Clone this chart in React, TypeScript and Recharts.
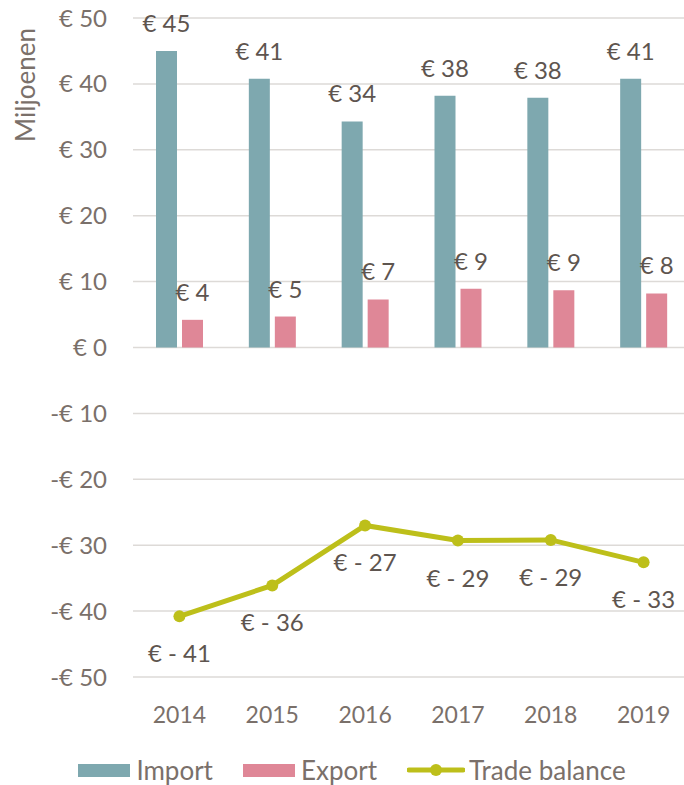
import React from 'react';
import { ComposedChart, Bar, Line, XAxis, YAxis, CartesianGrid, Legend, LabelList, Label } from 'recharts';

const years = ['2014', '2015', '2016', '2017', '2018', '2019'];
const importValues = [45.0, 40.8, 34.3, 38.2, 37.9, 40.8];
const exportValues = [4.2, 4.7, 7.3, 8.9, 8.7, 8.2];
const balanceValues = [-40.8, -36.1, -27.0, -29.3, -29.2, -32.6];
const yTicks = [-50, -40, -30, -20, -10, 0, 10, 20, 30, 40, 50];
const seriesNames = ['Import', 'Export', 'Trade balance'];

const IMPORT_COLOR = '#7EA8AF';
const EXPORT_COLOR = '#DF8797';
const LINE_COLOR = '#BDBF1A';
const TICK_COLOR = '#7A706A';
const LABEL_COLOR = '#5E554F';
const FONT = 'Lato, "Open Sans", sans-serif';

const data = years.map((y, i) => ({
  year: y,
  imp: importValues[i],
  exp: exportValues[i],
  bal: balanceValues[i],
}));

const fmtTick = (v: number) => (v < 0 ? `-€ ${Math.abs(v)}` : `€ ${v}`);
const fmtLabel = (v: any) => {
  const r = Math.round(Number(v));
  return r < 0 ? `€ - ${Math.abs(r)}` : `€ ${r}`;
};

const BarTopLabel = (props: any) => {
  const { x, y, width, value } = props;
  return (
    <text
      x={Number(x) + Number(width) / 2}
      y={Number(y) - 19}
      textAnchor="middle"
      fill={LABEL_COLOR}
      fontSize={24}
      fontFamily={FONT}
    >
      {fmtLabel(value)}
    </text>
  );
};

const PointBelowLabel = (props: any) => {
  const { x, y, value } = props;
  return (
    <text
      x={Number(x)}
      y={Number(y) + 46}
      textAnchor="middle"
      fill={LABEL_COLOR}
      fontSize={24}
      fontFamily={FONT}
    >
      {fmtLabel(value)}
    </text>
  );
};

const YTitle = (props: any) => {
  const vb = props.viewBox || { x: 0, y: 0 };
  const x = 25;
  const y = vb.y + 67;
  return (
    <text
      x={x}
      y={y}
      transform={`rotate(-90, ${x}, ${y})`}
      textAnchor="middle"
      dominantBaseline="central"
      fill={TICK_COLOR}
      fontSize={26}
      fontFamily={FONT}
    >
      Miljoenen
    </text>
  );
};

const LegendContent = () => (
  <div
    style={{
      display: 'flex',
      justifyContent: 'center',
      alignItems: 'center',
      paddingTop: 16,
      paddingLeft: 14,
      fontFamily: FONT,
      fontSize: 26,
      lineHeight: '30px',
      color: TICK_COLOR,
    }}
  >
    <div style={{ display: 'flex', alignItems: 'center', marginRight: 30 }}>
      <div style={{ width: 52, height: 13, background: IMPORT_COLOR, marginRight: 6 }} />
      <span>{seriesNames[0]}</span>
    </div>
    <div style={{ display: 'flex', alignItems: 'center', marginRight: 30 }}>
      <div style={{ width: 52, height: 13, background: EXPORT_COLOR, marginRight: 6 }} />
      <span>{seriesNames[1]}</span>
    </div>
    <div style={{ display: 'flex', alignItems: 'center' }}>
      <svg width={58} height={16} style={{ marginRight: 4 }}>
        <line x1={2} y1={8} x2={56} y2={8} stroke={LINE_COLOR} strokeWidth={5} strokeLinecap="round" />
        <circle cx={29} cy={8} r={6} fill={LINE_COLOR} />
      </svg>
      <span>{seriesNames[2]}</span>
    </div>
  </div>
);

export default function App() {
  return (
    <div style={{ position: 'absolute', left: 0, top: 0, width: 684, height: 785, overflow: 'hidden', background: '#fff' }}>
      <ComposedChart
        width={692}
        height={785}
        data={data}
        margin={{ top: 18, right: 2, bottom: 0, left: 0 }}
        barGap={5}
      >
        <CartesianGrid vertical={false} stroke="#DDDAD7" strokeWidth={1.5} />
        <XAxis
          dataKey="year"
          axisLine={false}
          tickLine={false}
          tickSize={0}
          tickMargin={30}
          height={62}
          tick={{ fill: TICK_COLOR, fontSize: 23, fontFamily: FONT }}
        />
        <YAxis
          domain={[-50, 50]}
          ticks={yTicks}
          interval={0}
          width={133}
          axisLine={false}
          tickLine={false}
          tickSize={0}
          tickMargin={26}
          tickFormatter={fmtTick}
          tick={{ fill: TICK_COLOR, fontSize: 24, fontFamily: FONT }}
        >
          <Label content={<YTitle />} />
        </YAxis>
        <Legend verticalAlign="bottom" height={46} content={<LegendContent />} />
        <Bar dataKey="imp" name={seriesNames[0]} fill={IMPORT_COLOR} barSize={21} isAnimationActive={false}>
          <LabelList dataKey="imp" content={<BarTopLabel />} />
        </Bar>
        <Bar dataKey="exp" name={seriesNames[1]} fill={EXPORT_COLOR} barSize={21} isAnimationActive={false}>
          <LabelList dataKey="exp" content={<BarTopLabel />} />
        </Bar>
        <Line
          dataKey="bal"
          name={seriesNames[2]}
          stroke={LINE_COLOR}
          strokeWidth={5}
          dot={{ r: 6, fill: LINE_COLOR, stroke: LINE_COLOR, strokeWidth: 0 }}
          activeDot={false}
          isAnimationActive={false}
        >
          <LabelList dataKey="bal" content={<PointBelowLabel />} />
        </Line>
      </ComposedChart>
    </div>
  );
}
